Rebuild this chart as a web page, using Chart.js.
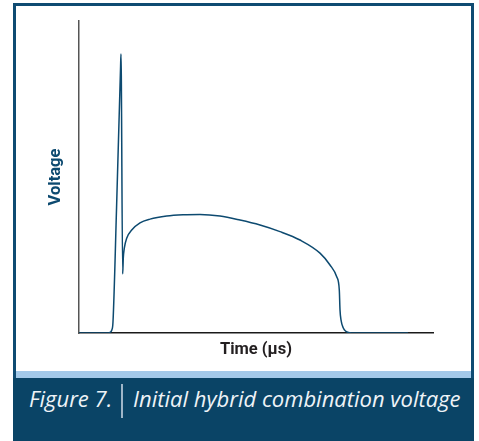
<!DOCTYPE html>
<html>
<head>
<meta charset="utf-8">
<script src="https://cdn.jsdelivr.net/npm/chart.js@4.4.1/dist/chart.umd.min.js"></script>
<style>
  html, body { margin: 0; padding: 0; background: #fff; }
  body { width: 479px; height: 441px; position: relative; overflow: hidden; }
  #frame { position: absolute; left: 13px; top: 3px; width: 461px; height: 438px; box-sizing: border-box;
           border: 3px solid #0f4b72; border-bottom: none; background: #fff; }
  #stripe { position: absolute; left: 16px; top: 371px; width: 455px; height: 7px; background: #a3c9e9; }
  #bar { position: absolute; left: 13px; top: 378px; width: 461px; height: 63px; background: #0a4466; }
  #sep { position: absolute; left: 121px; top: 384px; width: 2px; height: 34px; background: #9fb6c8; }
  .cap { position: absolute; top: 387px; font-family: "Open Sans", sans-serif; font-style: italic;
         font-size: 22px; line-height: 22px; color: #eef3f7; white-space: nowrap; }
  #c { position: absolute; left: 0; top: 0; }
</style>
</head>
<body>
<div id="frame"></div>
<div id="stripe"></div>
<div id="bar"></div>
<div id="sep"></div>
<div class="cap" style="left:29px">Figure 7.</div>
<div class="cap" style="left:133px">Initial hybrid combination voltage</div>
<canvas id="c" width="479" height="441"></canvas>
<script>
// Tempo (0-100) e tensão (0-100)
const timeValues = [0, 7.9, 8.76, 9.27, 9.6, 10.59, 11.75, 11.86, 11.95, 12.34, 12.51, 12.8, 13.47, 14.89,
  17.23, 20.06, 24.77, 29.38, 34.18, 39.83, 45.48, 51.13, 56.78, 62.43, 68.08, 70.9, 72.8, 73.53,
  73.73, 74.01, 74.66, 75.42, 76.55, 77.68, 92.94];
const voltageValues = [0, 0, 0.22, 0.96, 3.5, 39.4, 85.6, 89.4, 82.7, 18.9, 24.0, 27.2, 30.4, 33.0,
  35.3, 36.5, 37.5, 37.9, 38.0, 37.5, 36.2, 34.6, 32.5, 29.8, 25.6, 21.8, 18.0, 13.8,
  7.4, 4.2, 1.6, 0.5, 0.06, 0, 0];

const xTitle = 'Time (µs)';
const yTitle = 'Voltage';

const points = timeValues.map((t, i) => ({ x: t, y: voltageValues[i] }));
const titleFont = { family: "Roboto, sans-serif", size: 16.5, weight: 'bold' };

const ctx = document.getElementById('c').getContext('2d');
new Chart(ctx, {
  type: 'line',
  data: {
    datasets: [{
      data: points,
      borderColor: '#0d4a70',
      borderWidth: 1.5,
      pointRadius: 0,
      fill: false,
      cubicInterpolationMode: 'monotone'
    }]
  },
  options: {
    responsive: false,
    animation: false,
    layout: { padding: { left: 40, top: 21, right: 46, bottom: 71 } },
    plugins: { legend: { display: false }, tooltip: { enabled: false } },
    scales: {
      x: {
        type: 'linear', min: 0, max: 100,
        grid: { display: false },
        border: { display: true, color: '#1a1a1a', width: 1.5 },
        ticks: { display: false },
        title: { display: true, text: xTitle, color: '#231f20', font: titleFont, padding: { top: 0, bottom: 10 } },
        afterFit: s => { s.height = 37; }
      },
      y: {
        min: 0, max: 100,
        grid: { display: false },
        border: { display: true, color: '#555555', width: 1.5 },
        ticks: { display: false },
        title: { display: true, text: yTitle, color: '#0d4a70', font: titleFont, padding: { top: 6, bottom: 0 } },
        afterFit: s => { s.width = 39; }
      }
    }
  }
});
</script>
</body>
</html>
